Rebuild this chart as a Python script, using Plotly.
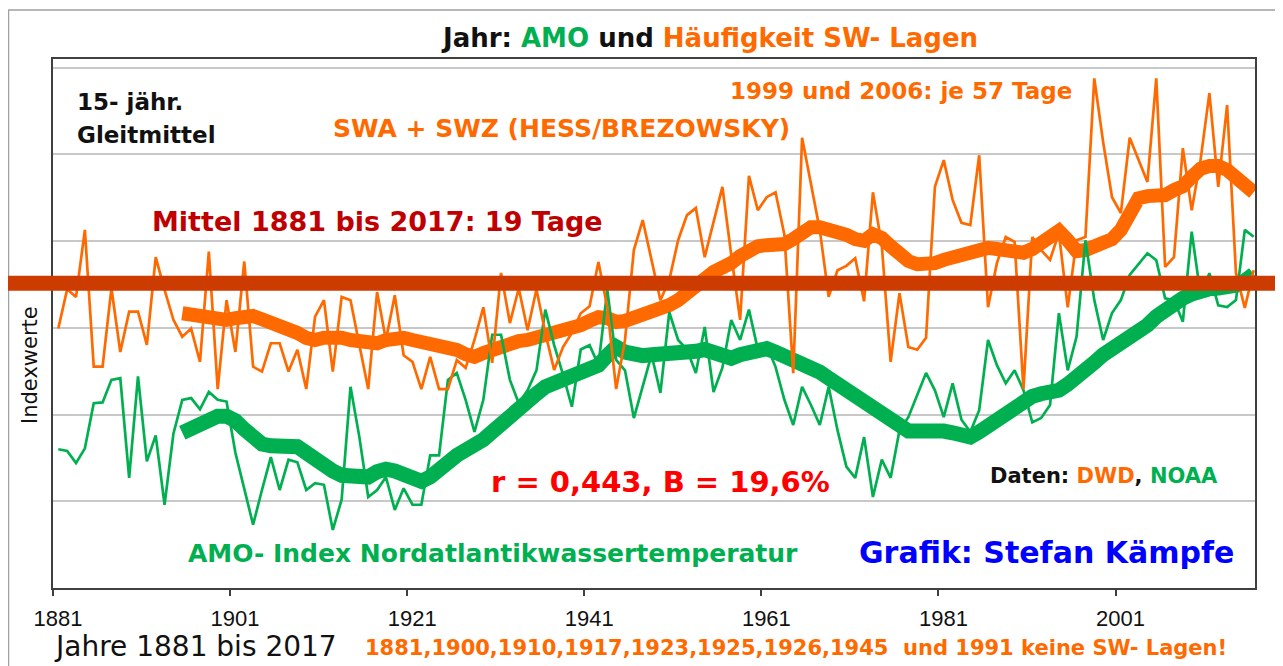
import plotly.graph_objects as go

# ---------------- data ----------------
YEARS = list(range(1882, 2018))

# annual number of SW days (SWA + SWZ, Hess/Brezowsky)
SW_DAYS = [
    11.1, 18.3, 16.9, 29.2, 4.1, 4.1, 18.5, 6.8, 14.2,                 # 1882-1890
    14.2, 8.1, 24.2, 18.2, 12.7, 9.6, 11.1, 5.0, 25.2, 0,               # 1891-1900
    16.3, 6.8, 23.4, 4.1, 3.2, 8.4, 8.4, 3.2, 7.2, 0,                   # 1901-1910
    13.3, 16.3, 3.2, 16.9, 16.3, 8.1, 0, 17.8, 9.0, 17.2,               # 1911-1920
    6.2, 5.0, 0, 5.9, 0, 0, 5.3, 3.9, 9.0, 15.0,                        # 1921-1930
    4.8, 21.3, 12.1, 18.5, 10.8, 18.3, 10.3, 3.5, 7.7, 10.3,            # 1931-1940
    13.9, 15.2, 23.3, 15.0, 0, 9.0, 25.5, 31.0, 23.7, 16.3,             # 1941-1950
    20.0, 27.3, 31.9, 33.2, 24.2, 30.6, 37.1, 24.6, 12.7, 39.1,         # 1951-1960
    32.8, 35.2, 36.1, 28.3, 2.9, 46.1, 37.4, 29.2, 16.9, 21.8,          # 1961-1970
    22.6, 24.0, 16.1, 36.1, 26.4, 5.0, 17.6, 7.7, 7.2, 9.4,             # 1971-1980
    37.1, 42.0, 34.7, 30.5, 30.1, 42.9, 15.0, 23.1, 27.9, 27.0,         # 1981-1990
    0, 27.9, 25.5, 23.7, 28.6, 15.0, 27.3, 27.9, 57, 45.3,              # 1991-2000
    35.2, 32.3, 46.1, 42.0, 38.0, 57, 22.4, 24.2, 44.2, 32.8,           # 2001-2010
    42.0, 54.3, 37.1, 52.1, 21.3, 14.9, 21.8,                           # 2011-2017
]

# annual AMO index (in chart index units)
AMO_INDEX = [
    1.60, 1.58, 1.44, 1.61, 2.13, 2.14, 2.40, 2.42, 1.27,
    2.44, 1.46, 1.76, 0.96, 1.78, 2.17, 2.19, 2.06, 2.26, 2.17,
    2.15, 1.56, 1.13, 0.73, 1.13, 1.51, 1.13, 1.48, 1.45, 1.13,
    1.21, 1.19, 0.67, 1.02, 2.32, 1.74, 1.05, 1.13, 1.28, 0.90,
    1.15, 0.96, 0.96, 1.53, 1.53, 2.40, 2.48, 2.17, 1.80, 2.17,
    2.92, 2.92, 2.40, 2.13, 2.28, 2.51, 3.21, 2.80, 2.46, 2.09,
    2.75, 2.80, 2.57, 3.44, 2.63, 2.51, 1.96, 2.34, 2.69, 2.25,
    3.18, 2.86, 2.75, 2.48, 3.01, 2.26, 2.54, 3.09, 2.86, 3.21,
    2.75, 2.80, 2.55, 2.17, 1.88, 2.32, 2.11, 1.88, 2.32, 1.82,
    1.40, 1.27, 1.74, 1.05, 1.48, 1.27, 1.82, 1.97, 2.23, 2.48,
    2.28, 1.97, 2.36, 1.94, 1.80, 2.05, 2.86, 2.57, 2.36, 2.51,
    2.28, 1.91, 1.96, 2.11, 3.17, 2.51, 2.90, 4.01, 3.32, 2.86,
    3.17, 3.32, 3.61, 3.73, 3.86, 3.78, 3.34, 3.32, 3.07, 4.11,
    3.38, 3.63, 3.26, 3.24, 3.32, 4.13, 4.05,
]

# 15-year moving averages as drawn (thick lines)
MA_YEARS = list(range(1896, 2018))
SW_MA15 = [
    13.9, 13.6, 13.2, 13.0, 12.5,
    12.7, 13.0, 13.4, 13.4, 12.8, 12.3, 11.9, 11.2, 10.3, 9.4,
    9.0, 9.4, 9.5, 9.4, 9.0, 8.8, 8.6, 8.4, 9.0, 9.5,
    9.4, 9.0, 8.6, 8.3, 8.1, 7.9, 7.2, 6.4, 5.9, 6.6,
    7.3, 7.9, 8.3, 8.8, 9.0, 9.4, 9.7, 10.1, 10.6, 11.2,
    11.7, 12.5, 13.2, 13.0, 12.3, 12.5, 13.0, 13.9, 14.5, 14.9,
    15.4, 16.3, 17.4, 18.7, 20.2, 21.5, 22.2, 23.1, 24.4, 25.7,
    26.2, 26.4, 26.4, 26.6, 27.5, 28.8, 29.7, 29.7, 29.4, 29.0,
    28.3, 27.5, 27.2, 28.4, 27.7, 26.2, 24.6, 23.5, 22.9, 22.9,
    23.1, 23.7, 24.2, 25.0, 25.5, 25.9, 25.9, 25.7, 25.5, 25.1,
    25.0, 25.7, 27.0, 28.3, 29.0, 27.3, 25.3, 25.5, 26.2, 26.8,
    27.5, 29.2, 32.3, 35.0, 35.4, 35.2, 35.6, 36.5, 37.2, 38.9,
    40.4, 40.9, 40.9, 40.2, 38.7, 37.2, 36.1,
]
AMO_MA15 = [
    1.79, 1.85, 1.90, 1.95, 1.98,
    1.98, 1.93, 1.83, 1.73, 1.66, 1.64, 1.64, 1.65, 1.63, 1.56,
    1.48, 1.41, 1.35, 1.30, 1.29, 1.28, 1.28, 1.34, 1.37, 1.35,
    1.31, 1.27, 1.23, 1.28, 1.38, 1.48, 1.53, 1.59, 1.64, 1.71,
    1.80, 1.90, 1.98, 2.05, 2.15, 2.24, 2.32, 2.36, 2.41, 2.46,
    2.48, 2.51, 2.57, 2.68, 2.78, 2.72, 2.68, 2.68, 2.69, 2.69,
    2.70, 2.71, 2.72, 2.73, 2.75, 2.72, 2.68, 2.65, 2.69, 2.72,
    2.76, 2.76, 2.72, 2.68, 2.63, 2.60, 2.56, 2.49, 2.42, 2.35,
    2.28, 2.20, 2.13, 2.06, 2.00, 1.93, 1.86, 1.81, 1.81, 1.82,
    1.83, 1.81, 1.79, 1.75, 1.74, 1.80, 1.87, 1.94, 2.03, 2.12,
    2.18, 2.21, 2.24, 2.26, 2.28, 2.35, 2.42, 2.50, 2.60, 2.69,
    2.75, 2.80, 2.87, 2.95, 3.03, 3.13, 3.21, 3.29, 3.34, 3.39,
    3.43, 3.45, 3.46, 3.47, 3.49, 3.54, 3.62,
]

MEAN_DAYS = 19.4
TICK_YEARS = [1881, 1901, 1921, 1941, 1961, 1981, 2001]

# ---------------- styling ----------------
ORANGE = "#ff6a00"
GREEN = "#00b050"
MEAN_RED = "#cc3b00"
DARK_RED = "#c00000"
FONT = "DejaVu Sans"

# the page body has an 8px margin, so the figure starts at page (8, 8)
OFF = 8
W, H = 1267, 658
ML, MT = 53 - OFF, 59 - OFF
PW = 1255 - 53
PH = 588 - 59
MR = W - ML - PW
MB = H - MT - PH


def px(x):
    """page x pixel -> paper x"""
    return (x - OFF - ML) / PW


def py(y):
    """page y pixel -> paper y"""
    return (MT + PH - (y - OFF)) / PH


IDX_RANGE = [0, 6.10]
DAY_RANGE = [-36.5, 60.55]

fig = go.Figure()
fig.add_trace(go.Scatter(x=MA_YEARS, y=AMO_MA15, mode="lines", yaxis="y",
                         line=dict(color=GREEN, width=15), hoverinfo="skip"))
fig.add_trace(go.Scatter(x=MA_YEARS, y=SW_MA15, mode="lines", yaxis="y2",
                         line=dict(color=ORANGE, width=14), hoverinfo="skip"))
fig.add_trace(go.Scatter(x=YEARS, y=AMO_INDEX, mode="lines", yaxis="y3",
                         line=dict(color=GREEN, width=2.7), hoverinfo="skip"))
fig.add_trace(go.Scatter(x=YEARS, y=SW_DAYS, mode="lines", yaxis="y4",
                         line=dict(color=ORANGE, width=2.7), hoverinfo="skip"))


def ann(text, x, y, size, color="#111111", bold=True, xanchor="center",
        angle=0, family=FONT):
    t = f"<b>{text}</b>" if bold else text
    return dict(text=t, x=px(x), y=py(y), xref="paper", yref="paper",
                xanchor=xanchor, yanchor="middle", showarrow=False,
                textangle=angle, font=dict(family=family, size=size, color=color))


annotations = [
    ann(f"Jahr: <span style='color:{GREEN}'>AMO</span> und "
        f"<span style='color:{ORANGE}'>Häufigkeit SW- Lagen</span>", 709, 38, 26),
    ann("15- jähr.", 75, 102, 23, xanchor="left"),
    ann("Gleitmittel", 75, 135, 23, xanchor="left"),
    ann("1999 und 2006: je 57 Tage", 901, 91, 23, ORANGE),
    ann("SWA + SWZ (HESS/BREZOWSKY)", 561, 128, 25, ORANGE),
    ann("Mittel 1881 bis 2017: 19 Tage", 377, 221, 27, DARK_RED),
    ann("r = 0,443, B = 19,6%", 660, 482, 29, "#ff0000"),
    ann(f"Daten: <span style='color:{ORANGE}'>DWD</span>, "
        f"<span style='color:{GREEN}'>NOAA</span>", 1104, 476, 21),
    ann("AMO- Index Nordatlantikwassertemperatur", 493, 553, 25, GREEN),
    ann("Grafik: Stefan Kämpfe", 1046, 552, 30, "#0000ff"),
    ann("Jahre 1881 bis 2017", 195, 646, 28, bold=False),
    ann("1881,1900,1910,1917,1923,1925,1926,1945  und 1991 keine SW- Lagen!",
        796, 648, 21, ORANGE),
    ann("Indexwerte", 30, 365, 21, bold=False, angle=-90),
]

shapes = [
    # outer picture frame
    dict(type="rect", xref="paper", yref="paper", x0=px(8.5), x1=px(1300),
         y0=py(700), y1=py(10), line=dict(color="#a0a0a0", width=1.5),
         fillcolor="rgba(0,0,0,0)", layer="below"),
    # long-term mean line
    dict(type="line", xref="paper", yref="y2", x0=px(8), x1=px(1277),
         y0=MEAN_DAYS, y1=MEAN_DAYS, line=dict(color=MEAN_RED, width=15),
         layer="above"),
]

fig.update_layout(
    width=W, height=H,
    margin=dict(l=ML, r=MR, t=MT, b=MB),
    paper_bgcolor="white", plot_bgcolor="white",
    showlegend=False,
    font=dict(family=FONT, color="#111111"),
    xaxis=dict(
        range=[1881.4, 2017.15],
        tickmode="array",
        tickvals=[y + 0.4 for y in TICK_YEARS],
        ticktext=[str(y) for y in TICK_YEARS],
        ticks="outside", ticklen=6, tickwidth=2, tickcolor="#404040",
        tickfont=dict(family="Liberation Sans", size=22, color="#111111"),
        ticklabelshift=5, ticklabelstandoff=4,
        showgrid=False, zeroline=False,
        showline=True, linecolor="#404040", linewidth=2, mirror=True,
    ),
    yaxis=dict(
        range=IDX_RANGE, tick0=0, dtick=1,
        showgrid=True, gridcolor="#c8c8c8", gridwidth=1.5,
        showticklabels=False, ticks="", zeroline=False,
        showline=True, linecolor="#404040", linewidth=2, mirror=True,
    ),
    yaxis2=dict(range=DAY_RANGE, overlaying="y", visible=False),
    yaxis3=dict(range=IDX_RANGE, overlaying="y", visible=False),
    yaxis4=dict(range=DAY_RANGE, overlaying="y", visible=False),
    annotations=annotations,
    shapes=shapes,
)

fig.write_html("out.html")
